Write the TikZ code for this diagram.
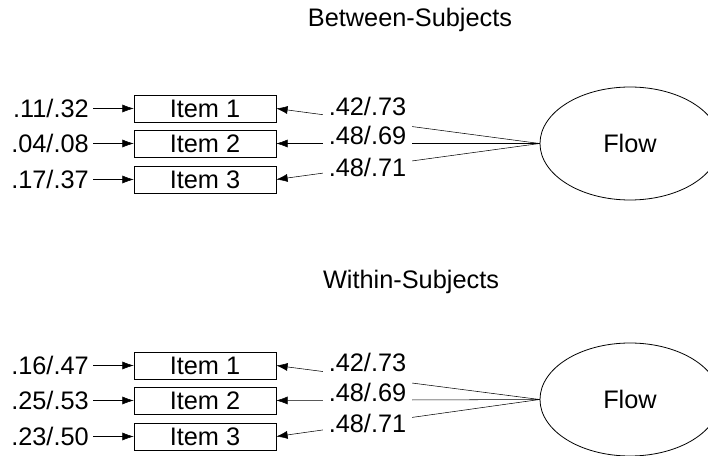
\documentclass[tikz,border=0pt]{standalone}
\usepackage{fontspec}
\setmainfont{Liberation Sans}
\usetikzlibrary{shapes,arrows.meta,positioning}
\tikzset{
    -{Latex[length=8.5pt,width=6pt]},line width=0.8pt,
    font=\fontsize{19}{22}\selectfont,
    item/.style ={rectangle, draw, minimum width=106.5pt, minimum height=20.25pt, inner sep=0pt, text height=13.5pt, text depth=0pt},
    latent/.style ={ellipse, draw, line width=0.6pt, minimum width=135pt, minimum height=84.75pt, inner sep=0pt, text height=13.5pt, text depth=0pt},
    err/.style = {anchor=east, inner sep=3pt, text height=13.5pt, text depth=0pt},
    load/.style = {anchor=base, fill=white, inner xsep=4pt, inner ysep=1.5pt, text height=13.5pt, text depth=6.5pt},
    heading/.style = {anchor=base}
}

\begin{document}
\begin{tikzpicture}[x=0.75pt,y=-0.75pt]
        \useasboundingbox (0,0) rectangle (708,456);
        \clip (0,0) rectangle (708,456);

        % between-subjects
        \node[heading] (tb) at (410,27) {Between-Subjects};
        \node[item] (b1) at (205,108.5) {Item 1};
        \node[item] (b2) at (205,143.5) {Item 2};
        \node[item] (b3) at (205,179.5) {Item 3};
        \node[err] (eb1) at (93,108.5) {.11/.32};
        \node[err] (eb2) at (93,143.5) {.04/.08};
        \node[err] (eb3) at (93,179.5) {.17/.37};
        \node[latent] (fb) at (630,143.5) {Flow};

        \path (eb1) edge (b1);
        \path (eb2) edge (b2);
        \path (eb3) edge (b3);
        \path (fb.west) edge (b1.east);
        \path (fb.west) edge (b2.east);
        \path (fb.west) edge (b3.east);

        \node[load] (lb1) at (367.5,115.7) {.42/.73};
        \node[load] (lb2) at (367.5,145) {.48/.69};
        \node[load] (lb3) at (367.5,176.7) {.48/.71};

        % within-subjects
        \node[heading] (tw) at (411,289) {Within-Subjects};
        \node[item] (w1) at (205,365.5) {Item 1};
        \node[item] (w2) at (205,400.5) {Item 2};
        \node[item] (w3) at (205,436.5) {Item 3};
        \node[err] (ew1) at (93,365.5) {.16/.47};
        \node[err] (ew2) at (93,400.5) {.25/.53};
        \node[err] (ew3) at (93,436.5) {.23/.50};
        \node[latent] (fw) at (630,399.5) {Flow};

        \path (ew1) edge (w1);
        \path (ew2) edge (w2);
        \path (ew3) edge (w3);
        \path (fw.west) edge (w1.east);
        \path (fw.west) edge (w2.east);
        \path (fw.west) edge (w3.east);

        \node[load] (lw1) at (367.5,371.7) {.42/.73};
        \node[load] (lw2) at (367.5,401.7) {.48/.69};
        \node[load] (lw3) at (367.5,432.7) {.48/.71};
\end{tikzpicture}
\end{document}
